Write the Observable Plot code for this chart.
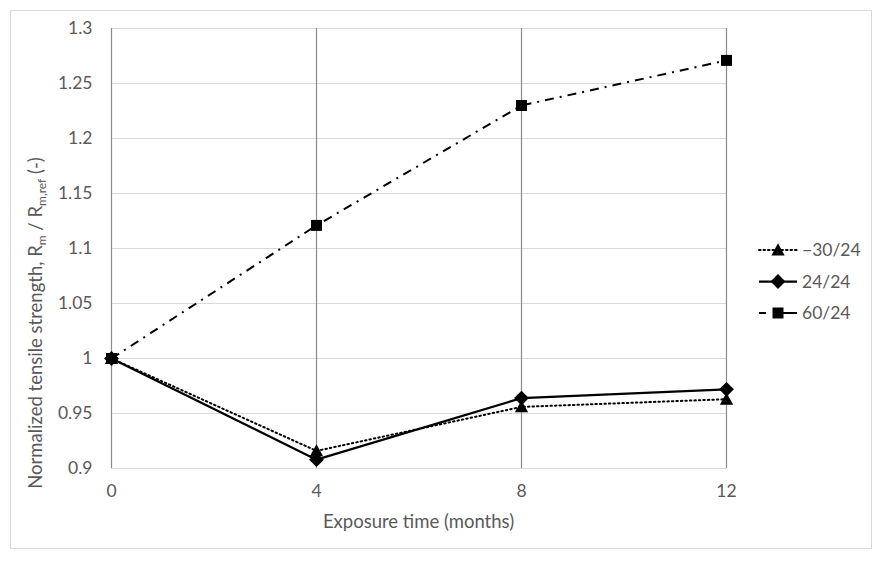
<!DOCTYPE html>
<html>
<head>
<meta charset="utf-8">
<script src="https://cdn.jsdelivr.net/npm/d3@7"></script>
<script src="https://cdn.jsdelivr.net/npm/@observablehq/plot@0.6"></script>
<style>
  body { margin: 0; background: #fff; }
  #wrap { position: relative; width: 883px; height: 562px; font-family: Lato, "Open Sans", sans-serif; }
  #border { position: absolute; left: 10px; top: 10px; width: 862px; height: 539px; border: 1px solid #d9d9d9; box-sizing: border-box; }
  #chart { position: absolute; left: 0; top: 0; }
  #legend { position: absolute; left: 757px; top: 238px; }
</style>
</head>
<body>
<div id="wrap">
  <div id="border"></div>
  <div id="chart"></div>
  <div id="legend"></div>
</div>
<script>
const months = [0, 4, 8, 12];
const seriesNames = ["\u221230/24", "24/24", "60/24"];
const valuesM30 = [1.000, 0.916, 0.956, 0.963];
const values24 = [1.000, 0.908, 0.964, 0.972];
const values60 = [1.000, 1.121, 1.230, 1.271];
const yTicks = [0.9, 0.95, 1, 1.05, 1.1, 1.15, 1.2, 1.25, 1.3];
const xTicks = [0, 4, 8, 12];

const squareDiamond = {
  draw(ctx, size) {
    const r = Math.sqrt(size / 2.2);
    ctx.moveTo(0, -r); ctx.lineTo(r, 0); ctx.lineTo(0, r); ctx.lineTo(-r, 0); ctx.closePath();
  }
};
const tri = {
  draw(ctx, size) {
    const h = Math.sqrt(size) * 1.1;
    ctx.moveTo(0, -h * 0.55); ctx.lineTo(h * 0.55, h * 0.45); ctx.lineTo(-h * 0.55, h * 0.45); ctx.closePath();
  }
};
const sq = {
  draw(ctx, size) {
    const s = Math.sqrt(size) / 2;
    ctx.rect(-s, -s, 2 * s, 2 * s);
  }
};

const styles = [
  { values: valuesM30, dash: "1.5,3", symbol: tri, width: 2 },
  { values: values24, dash: null, symbol: squareDiamond, width: 2.25 },
  { values: values60, dash: "9,6,2,6", symbol: sq, width: 2 }
];

const rows = [];
styles.forEach((s, i) => s.values.forEach((v, j) => rows.push({ series: seriesNames[i], x: months[j], y: v, idx: i })));

const marks = [
  Plot.ruleY(yTicks, { stroke: "#d9d9d9", strokeWidth: 1.2 }),
  Plot.ruleX([0, 4, 8, 12], { stroke: "#8a8a8a", strokeWidth: 1.2 })
];
styles.forEach((s, i) => {
  const d = rows.filter(r => r.idx === i);
  marks.push(Plot.line(d, { x: "x", y: "y", stroke: "#000", strokeWidth: s.width, strokeDasharray: s.dash, strokeLinecap: i === 0 ? "round" : "butt" }));
});
styles.forEach((s, i) => {
  const d = rows.filter(r => r.idx === i);
  marks.push(Plot.dot(d, { x: "x", y: "y", symbol: () => s.symbol, r: 6.2, fill: "#000", stroke: "none" }));
});

const fmt = d => String(+d.toFixed(2));
const chart = Plot.plot({
  width: 883,
  height: 562,
  marginLeft: 111,
  marginRight: 157,
  marginTop: 28,
  marginBottom: 94,
  style: { fontFamily: "Lato, 'Open Sans', sans-serif", fontSize: "17.5px", color: "#595959", background: "transparent" },
  x: { domain: [0, 12], ticks: xTicks, tickSize: 0, tickPadding: 16, label: null },
  y: { domain: [0.9, 1.3], ticks: yTicks, tickSize: 0, tickPadding: 19, label: null, tickFormat: fmt },
  symbol: { type: "identity" },
  marks: [
    ...marks,
    Plot.axisX({ ticks: xTicks, tickSize: 0, tickPadding: 16, label: null, fill: "#595959" }),
    Plot.axisY({ ticks: yTicks, tickSize: 0, tickPadding: 19, label: null, fill: "#595959", tickFormat: fmt })
  ]
});
document.getElementById("chart").appendChild(chart);

const svg = d3.select(chart);
svg.append("text")
  .attr("x", 418.5).attr("y", 528)
  .attr("text-anchor", "middle")
  .attr("fill", "#595959")
  .style("font-size", "18.5px")
  .text("Exposure time (months)");

const yl = svg.append("text")
  .attr("transform", "translate(42,323) rotate(-90)")
  .attr("text-anchor", "middle")
  .attr("fill", "#595959")
  .style("font-size", "18.5px");
yl.append("tspan").text("Normalized tensile strength, R");
yl.append("tspan").attr("dy", 4).style("font-size", "12px").text("m");
yl.append("tspan").attr("dy", -4).text(" / R");
yl.append("tspan").attr("dy", 4).style("font-size", "12px").text("m,ref");
yl.append("tspan").attr("dy", -4).text(" (-)");

// legend
const lg = d3.select("#legend").append("svg").attr("width", 115).attr("height", 90)
  .style("font-family", "Lato, 'Open Sans', sans-serif");
styles.forEach((s, i) => {
  const cy = 12 + i * 31.5;
  lg.append("line").attr("x1", 2).attr("x2", 40).attr("y1", cy).attr("y2", cy)
    .attr("stroke", "#000").attr("stroke-width", s.width)
    .attr("stroke-dasharray", i === 0 ? "1.5,3" : (i === 2 ? "7,8,100" : null))
    .attr("stroke-linecap", i === 0 ? "round" : "butt");
  lg.append("path").attr("transform", `translate(21,${cy})`)
    .attr("d", d3.symbol(s.symbol, 6.2 * 6.2 * Math.PI)()).attr("fill", "#000");
  lg.append("text").attr("x", 45).attr("y", cy).attr("dy", "0.35em")
    .attr("fill", "#595959").style("font-size", "17.5px").text(seriesNames[i]);
});
</script>
</body>
</html>
